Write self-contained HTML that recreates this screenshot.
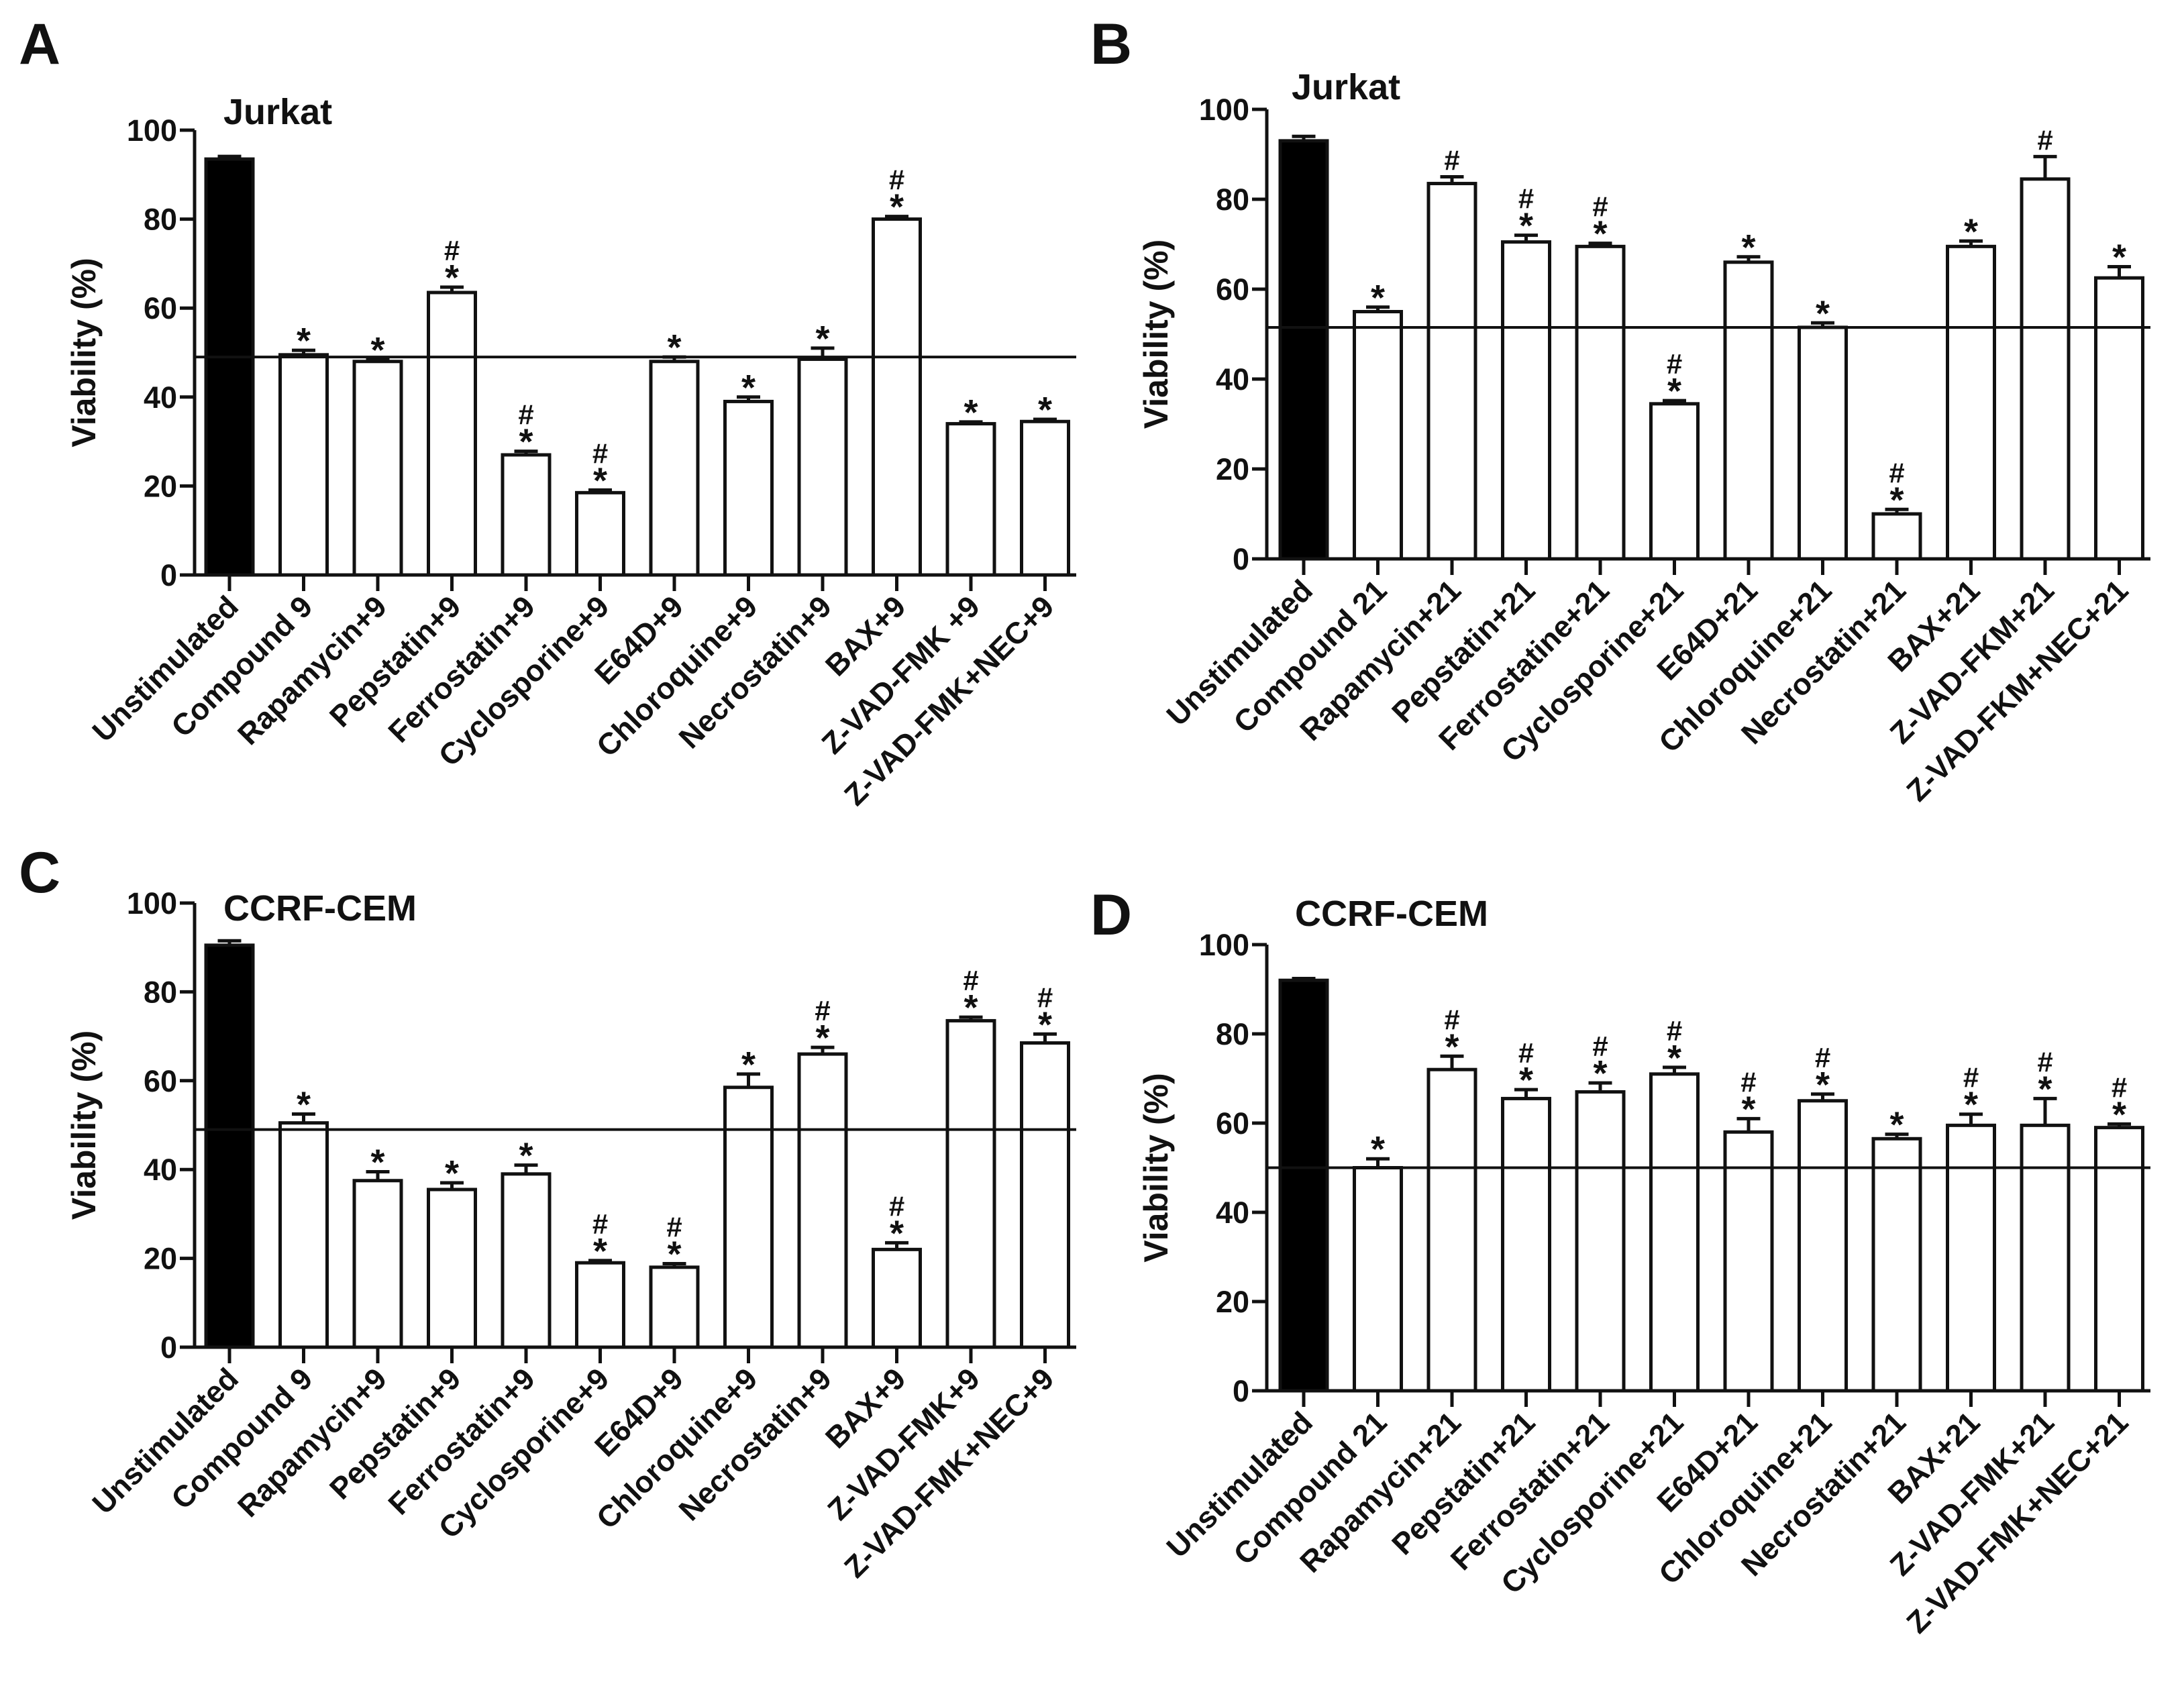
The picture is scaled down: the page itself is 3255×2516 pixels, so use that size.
<!DOCTYPE html>
<html><head><meta charset="utf-8"><style>
html,body{margin:0;padding:0;background:#fff;}
svg{display:block;font-family:"Liberation Sans",Arial,sans-serif;font-weight:bold;}
</style></head><body>
<svg id="fig" width="3255" height="2516" viewBox="0 0 3255 2516" xmlns="http://www.w3.org/2000/svg">
<rect width="3255" height="2516" fill="#fff"/>
</svg>
<script>
const catsA = ["Unstimulated","Compound 9","Rapamycin+9","Pepstatin+9","Ferrostatin+9","Cyclosporine+9","E64D+9","Chloroquine+9","Necrostatin+9","BAX+9","Z-VAD-FMK +9","Z-VAD-FMK+NEC+9"];
const valsA = [93.5,49.5,48,63.5,27,18.5,48,39,48.5,80,34,34.5];
const errA = [0.6,1,0.4,1.2,0.8,0.6,1,1,2.5,0.6,0.4,0.5];
const marksA = ["","*","*","#*","#*","#*","*","*","*","#*","*","*"];
const refA = 49;

const catsB = ["Unstimulated","Compound 21","Rapamycin+21","Pepstatin+21","Ferrostatine+21","Cyclosporine+21","E64D+21","Chloroquine+21","Necrostatin+21","BAX+21","Z-VAD-FKM+21","Z-VAD-FKM+NEC+21"];
const valsB = [93,55,83.5,70.5,69.5,34.5,66,51.5,10,69.5,84.5,62.5];
const errB = [1,1,1.5,1.5,0.7,0.7,1.2,1,1,1.2,5,2.5];
const marksB = ["","*","#","#*","#*","#*","*","*","#*","*","#","*"];
const refB = 51.5;

const catsC = ["Unstimulated","Compound 9","Rapamycin+9","Pepstatin+9","Ferrostatin+9","Cyclosporine+9","E64D+9","Chloroquine+9","Necrostatin+9","BAX+9","Z-VAD-FMK+9","Z-VAD-FMK+NEC+9"];
const valsC = [90.5,50.5,37.5,35.5,39,19,18,58.5,66,22,73.5,68.5];
const errC = [1,2,2,1.5,2,0.5,0.8,3,1.5,1.5,0.8,2];
const marksC = ["","*","*","*","*","#*","#*","*","#*","#*","#*","#*"];
const refC = 49;

const catsD = ["Unstimulated","Compound 21","Rapamycin+21","Pepstatin+21","Ferrostatin+21","Cyclosporine+21","E64D+21","Chloroquine+21","Necrostatin+21","BAX+21","Z-VAD-FMK+21","Z-VAD-FMK+NEC+21"];
const valsD = [92,50,72,65.5,67,71,58,65,56.5,59.5,59.5,59];
const errD = [0.4,2,3,2,2,1.5,3,1.5,1,2.5,6,0.8];
const marksD = ["","*","#*","#*","#*","#*","#*","#*","*","#*","#*","#*"];
const refD = 50;

const yTicks = [0,20,40,60,80,100];

const NS="http://www.w3.org/2000/svg";
const svg=document.getElementById('fig');
function mk(tag,attrs,parent){const e=document.createElementNS(NS,tag);for(const k in attrs)e.setAttribute(k,attrs[k]);(parent||svg).appendChild(e);return e;}

function panel(p){
  const g=mk('g',{});
  
  
  const y=v=>p.y0-(p.y0-p.y100)*v/100;
  const x=i=>p.c0+i*p.step;
  const L=mk('text',{x:p.lx,y:p.ly,'font-size':86,fill:'#111'},g);L.textContent=p.letter;
  
  
  const T=mk('text',{x:p.tx,y:p.ty,'font-size':54,fill:'#111'},g);T.textContent=p.title;
  
  
  const yt=mk('text',{transform:`translate(${p.ax-148},${(p.y0+p.y100)/2}) rotate(-90)`,'text-anchor':'middle','font-size':50,fill:'#111'},g);yt.textContent='Viability (%)';
  
  
  yTicks.forEach(t=>{
    const tl=mk('line',{x1:p.ax-22,x2:p.ax,y1:y(t),y2:y(t),stroke:'#111','stroke-width':5},g);
    
    
    const tt=mk('text',{x:p.ax-26,y:y(t)+16,'text-anchor':'end','font-size':45,fill:'#111'},g);tt.textContent=t;
    
    
  });
  p.vals.forEach((v,i)=>{
    const cx=x(i),top=y(v),et=y(v+p.err[i]);
    const b=mk('rect',{x:cx-p.bw/2,y:top,width:p.bw,height:p.y0-top,fill:i==0?'#000':'#fff',stroke:'#111','stroke-width':5},g);
    
    
    const e1=mk('line',{x1:cx,x2:cx,y1:top,y2:et,stroke:'#111','stroke-width':5},g);
    
    
    const e2=mk('line',{x1:cx-p.bw/4,x2:cx+p.bw/4,y1:et,y2:et,stroke:'#111','stroke-width':5},g);
    
    
    const m=p.marks[i];
    if(m.includes('*')){const s=mk('text',{x:cx,y:et+4,'text-anchor':'middle','font-size':54,fill:'#111'},g);s.textContent='*';
      
      }
    if(m.includes('#')){const h=mk('text',{x:cx,y:et-(m.includes('*')?40:10),'text-anchor':'middle','font-size':42,fill:'#111'},g);h.textContent='#';
      
      }
    const xt=mk('line',{x1:cx,x2:cx,y1:p.y0,y2:p.y0+24,stroke:'#111','stroke-width':5},g);
    
    
    const lab=mk('text',{transform:`translate(${cx+16},${p.y0+50}) rotate(-45)`,'text-anchor':'end','font-size':45,fill:'#111'},g);lab.textContent=p.cats[i];
    
    
  });
  const ya=mk('line',{x1:p.ax,x2:p.ax,y1:p.y100,y2:p.y0,stroke:'#111','stroke-width':5},g);
  
  
  const xa=mk('line',{x1:p.ax-22,x2:p.xend,y1:p.y0,y2:p.y0,stroke:'#111','stroke-width':5},g);
  
  
  const r=mk('line',{x1:p.ax,x2:p.xend,y1:y(p.ref),y2:y(p.ref),stroke:'#111','stroke-width':4},g);
  
  
}
panel({letter:'A',lx:28,ly:95,title:'Jurkat',tx:333,ty:185,ax:290,y100:194,y0:857,c0:342,step:110.5,bw:70,xend:1604,cats:catsA,vals:valsA,err:errA,marks:marksA,ref:refA});
panel({letter:'B',lx:1625,ly:95,title:'Jurkat',tx:1925,ty:148,ax:1888,y100:163,y0:833,c0:1943,step:110.5,bw:70,xend:3205,cats:catsB,vals:valsB,err:errB,marks:marksB,ref:refB});
panel({letter:'C',lx:28,ly:1330,title:'CCRF-CEM',tx:333,ty:1372,ax:290,y100:1346,y0:2008,c0:342,step:110.5,bw:70,xend:1604,cats:catsC,vals:valsC,err:errC,marks:marksC,ref:refC});
panel({letter:'D',lx:1625,ly:1393,title:'CCRF-CEM',tx:1930,ty:1380,ax:1888,y100:1408,y0:2073,c0:1943,step:110.5,bw:70,xend:3205,cats:catsD,vals:valsD,err:errD,marks:marksD,ref:refD});
</script>
</body></html>
